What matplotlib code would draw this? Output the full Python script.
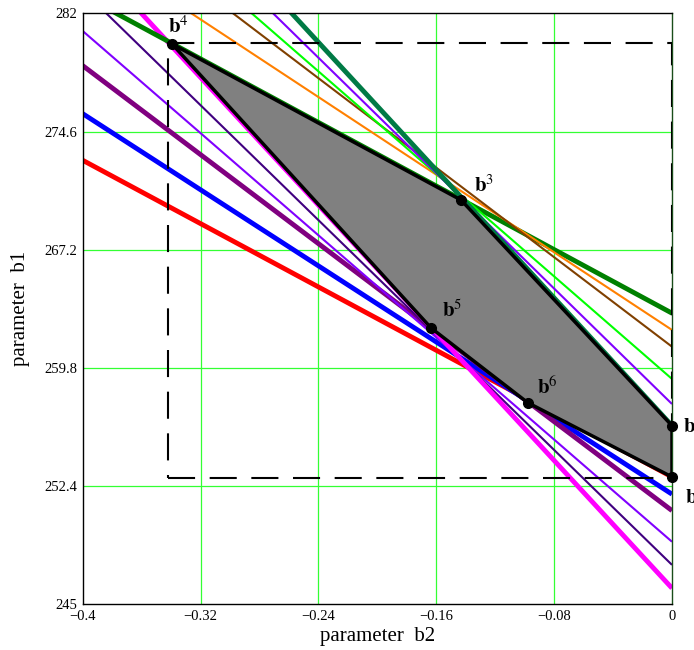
import numpy as np
import matplotlib.pyplot as plt

plt.rcParams['font.family'] = 'Liberation Serif'
plt.rcParams['mathtext.fontset'] = 'stix'

# lineas de restriccion: b1 = b0 + k*b2 (b0 = corte en b2=0)
cortes_inf = [252.96, 251.88, 250.85, 248.90, 247.45, 245.99]
pend_inf = [-49.6, -59.6, -69.7, -80.0, -90.0, -100.0]
colores_inf = ['#ff0000', '#0000ff', '#800080', '#8000ff', '#400080', '#ff00ff']
grosor_inf = [3.5, 3.5, 3.5, 1.5, 1.5, 3.5]

cortes_sup = [263.22, 262.17, 261.12, 259.10, 257.53, 256.17]
pend_sup = [-49.8, -60.8, -70.1, -80.3, -90.4, -100.1]
colores_sup = ['#008000', '#ff8000', '#804000', '#00ff00', '#8000ff', '#007a45']
grosor_sup = [3.5, 1.5, 1.5, 1.5, 1.5, 3.5]

# vertices del poligono factible
vert_b2 = [-0.3394, -0.1432, 0.0, 0.0, -0.0979, -0.1635]
vert_b1 = [280.09, 270.31, 256.17, 252.96, 257.61, 262.29]
vert_nombres = ['4', '3', '1', '2', '6', '5']
vert_offset = [(-3, 8), (9, 6), (8, -5), (9, -19), (7, 6), (8, 8)]

# caja de intervalos
caja_b2 = [-0.3419, 0.0]
caja_b1 = [252.88, 280.17]

xticks = [-0.4, -0.32, -0.24, -0.16, -0.08, 0]
yticks = [245, 252.4, 259.8, 267.2, 274.6, 282]

fig = plt.figure(figsize=(6.94, 6.5), dpi=100)
ax = fig.add_axes([0.1192, 0.0708, 0.8491, 0.9085])

b2 = np.array([-0.4, 0.0])
for b0, k, c, w in zip(cortes_inf + cortes_sup, pend_inf + pend_sup,
                       colores_inf + colores_sup, grosor_inf + grosor_sup):
    ax.plot(b2, b0 + k * b2, color=c, lw=w, zorder=2, solid_capstyle='butt')

ax.plot([caja_b2[0], caja_b2[1], caja_b2[1], caja_b2[0], caja_b2[0]],
        [caja_b1[0], caja_b1[0], caja_b1[1], caja_b1[1], caja_b1[0]],
        color='k', lw=1.5, ls=(0, (13, 7)), zorder=3)

ax.fill(vert_b2, vert_b1, facecolor='#808080', edgecolor='k', lw=2.5,
        zorder=4, joinstyle='round')
ax.plot(vert_b2, vert_b1, 'o', color='k', ms=7, zorder=5, clip_on=False)

for x, y, n, off in zip(vert_b2, vert_b1, vert_nombres, vert_offset):
    ax.annotate(r'$\mathbf{b}^{%s}$' % n, (x, y), xytext=off,
                textcoords='offset points', fontsize=15, zorder=6,
                annotation_clip=False)

ax.set_xlim(-0.4, 0)
ax.set_ylim(245, 282)
ax.set_xticks(xticks)
ax.set_xticklabels(['\u22120.4', '\u22120.32', '\u22120.24', '\u22120.16', '\u22120.08', '0'])
ax.set_yticks(yticks)
ax.set_yticklabels(['245', '252.4', '259.8', '267.2', '274.6', '282'])
ax.tick_params(length=0, labelsize=10.5, pad=4)

for v in xticks[1:-1]:
    ax.axvline(v, color='#33ff33', lw=0.9, zorder=1)
for v in yticks[1:-1]:
    ax.axhline(v, color='#33ff33', lw=0.9, zorder=1)

ax.spines['right'].set_color('#1a4d1a')
for s in ax.spines.values():
    s.set_linewidth(1.0)

ax.set_xlabel('parameter  b2', fontsize=15, labelpad=3)
ax.set_ylabel('parameter  b1', fontsize=15, labelpad=10)

plt.savefig('out.png', dpi=100)
